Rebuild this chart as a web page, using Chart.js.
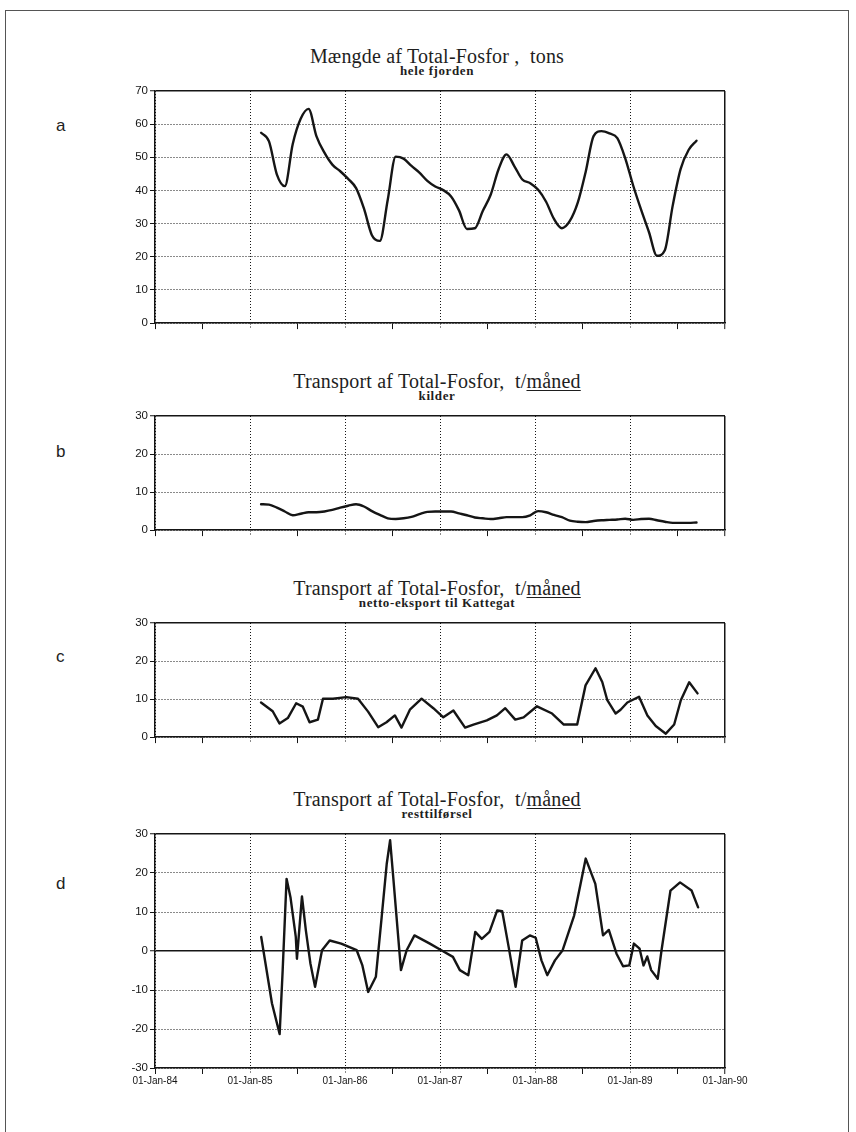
<!DOCTYPE html>
<html>
<head>
<meta charset="utf-8">
<script src="https://cdn.jsdelivr.net/npm/chart.js@4"></script>
<style>
html,body{margin:0;padding:0;background:#fff;}
body{width:856px;height:1132px;position:relative;overflow:hidden;}
#frame{position:absolute;left:5px;top:10px;width:844px;height:1200px;border:1.5px solid #555;box-sizing:border-box;}
canvas{position:absolute;}
.title{position:absolute;left:147px;width:580px;text-align:center;font-family:'Liberation Serif','Times New Roman',serif;font-size:20px;letter-spacing:0.2px;color:#1e1e1e;line-height:20px;white-space:nowrap;}
.title u{text-decoration-thickness:1px;text-underline-offset:2px;}
.sub{position:absolute;left:147px;width:580px;text-align:center;font-family:'Liberation Serif','Times New Roman',serif;font-size:13px;font-weight:bold;letter-spacing:0.6px;color:#1e1e1e;line-height:13px;white-space:nowrap;}
.lab{position:absolute;font-family:'Liberation Sans',Arial,sans-serif;font-size:17px;color:#222;line-height:17px;}
</style>
</head>
<body>
<div id="frame"></div>

<div class="lab" style="left:56px;top:117px;">a</div>
<div class="lab" style="left:56px;top:443px;">b</div>
<div class="lab" style="left:56px;top:648px;">c</div>
<div class="lab" style="left:56px;top:875px;">d</div>

<div class="title" style="top:46px;">Mængde af Total-Fosfor ,&nbsp; tons</div>
<div class="sub" style="top:64px;">hele fjorden</div>
<div class="title" style="top:371px;">Transport af Total-Fosfor,&nbsp; t/<u>måned</u></div>
<div class="sub" style="top:389px;">kilder</div>
<div class="title" style="top:578px;">Transport af Total-Fosfor,&nbsp; t/<u>måned</u></div>
<div class="sub" style="top:596px;">netto-eksport til Kattegat</div>
<div class="title" style="top:789px;">Transport af Total-Fosfor,&nbsp; t/<u>måned</u></div>
<div class="sub" style="top:807px;">resttilførsel</div>

<script>
// ---------- DATA ----------
const xYears = [1984, 1985, 1986, 1987, 1988, 1989, 1990];
const xTickLabels = ['01-Jan-84','01-Jan-85','01-Jan-86','01-Jan-87','01-Jan-88','01-Jan-89','01-Jan-90'];

const yTicksA = [0, 10, 20, 30, 40, 50, 60, 70];
const yTicksB = [0, 10, 20, 30];
const yTicksC = [0, 10, 20, 30];
const yTicksD = [-30, -20, -10, 0, 10, 20, 30];

// monthly dates for panels a and b
const months = [
 '1985-02','1985-03','1985-04','1985-05','1985-06','1985-07','1985-08','1985-09','1985-10','1985-11','1985-12',
 '1986-01','1986-02','1986-03','1986-04','1986-05','1986-06','1986-07','1986-08','1986-09','1986-10','1986-11','1986-12',
 '1987-01','1987-02','1987-03','1987-04','1987-05','1987-06','1987-07','1987-08','1987-09','1987-10','1987-11','1987-12',
 '1988-01','1988-02','1988-03','1988-04','1988-05','1988-06','1988-07','1988-08','1988-09','1988-10','1988-11','1988-12',
 '1989-01','1989-02','1989-03','1989-04','1989-05','1989-06','1989-07','1989-08','1989-09'
];

// a: Mængde af Total-Fosfor, tons (hele fjorden)
const amountTons = [
 57.4, 54.8, 44.8, 41.3, 54.0, 61.6, 64.6, 56.3, 51.4, 47.8, 45.8,
 43.5, 40.7, 34.5, 26.5, 24.8, 37.2, 50.2, 49.6, 47.4, 45.4, 42.9, 41.2,
 40.1, 38.2, 34.0, 28.4, 28.6, 33.8, 38.7, 46.4, 50.9, 47.3, 43.3, 42.2,
 40.2, 36.6, 31.4, 28.6, 30.8, 36.3, 45.6, 56.4, 57.9, 57.2, 55.8, 49.7,
 41.5, 34.2, 27.4, 20.3, 22.0, 35.5, 46.5, 52.2, 55.0
];

// b: kilder, t/måned
const sources = [
 6.8, 6.7, 5.9, 4.9, 3.9, 4.3, 4.7, 4.7, 4.9, 5.3, 5.9,
 6.4, 6.8, 6.2, 5.0, 4.0, 3.1, 2.9, 3.1, 3.5, 4.2, 4.8, 4.9,
 4.9, 4.9, 4.4, 3.9, 3.3, 3.1, 2.9, 3.1, 3.4, 3.4, 3.4, 3.9,
 5.0, 4.7, 4.0, 3.4, 2.5, 2.2, 2.1, 2.4, 2.6, 2.7, 2.8, 3.0,
 2.7, 2.9, 3.0, 2.6, 2.2, 1.9, 1.9, 1.9, 2.0
];

// c: netto-eksport til Kattegat, t/måned (dates as decimal years)
const exportDates = [
 1985.116, 1985.239, 1985.310, 1985.398, 1985.486, 1985.556, 1985.627, 1985.715, 1985.768, 1985.873,
 1986.014, 1986.137, 1986.243, 1986.349, 1986.437, 1986.525, 1986.595, 1986.683, 1986.806, 1986.930,
 1987.035, 1987.141, 1987.264, 1987.352, 1987.493, 1987.599, 1987.687, 1987.792, 1987.880, 1988.021,
 1988.180, 1988.303, 1988.444, 1988.532, 1988.637, 1988.708, 1988.761, 1988.849, 1988.901, 1988.972,
 1989.095, 1989.183, 1989.271, 1989.377, 1989.465, 1989.535, 1989.623, 1989.711
];
const netExport = [
 9.1, 6.8, 3.6, 5.0, 8.9, 8.0, 3.9, 4.6, 10.1, 10.1,
 10.5, 10.1, 6.7, 2.6, 3.9, 5.7, 2.5, 7.2, 10.1, 7.6,
 5.2, 7.0, 2.5, 3.3, 4.4, 5.7, 7.6, 4.6, 5.2, 8.1,
 6.2, 3.3, 3.3, 13.6, 18.1, 14.5, 9.7, 6.2, 7.2, 9.1,
 10.6, 5.7, 2.9, 0.9, 3.3, 9.7, 14.4, 11.5
];

// d: resttilførsel, t/måned (dates as decimal years)
const restDates = [
 1985.118, 1985.231, 1985.312, 1985.344, 1985.385, 1985.426, 1985.482, 1985.494, 1985.547, 1985.588,
 1985.636, 1985.685, 1985.758, 1985.839, 1985.960, 1986.123, 1986.183, 1986.244, 1986.325, 1986.386,
 1986.439, 1986.475, 1986.508, 1986.589, 1986.649, 1986.731, 1986.893, 1987.014, 1987.136, 1987.209,
 1987.298, 1987.371, 1987.440, 1987.521, 1987.602, 1987.655, 1987.723, 1987.796, 1987.865, 1987.946,
 1988.007, 1988.068, 1988.129, 1988.210, 1988.291, 1988.412, 1988.534, 1988.635, 1988.716, 1988.777,
 1988.858, 1988.927, 1988.992, 1989.041, 1989.101, 1989.142, 1989.182, 1989.223, 1989.292, 1989.332,
 1989.426, 1989.527, 1989.648, 1989.717
];
const restSupply = [
 3.6, -13.4, -21.3, -4.9, 18.5, 13.8, 3.6, -2.0, 14.0, 5.3,
 -3.2, -9.2, 0.2, 2.7, 1.9, 0.2, -3.7, -10.5, -6.6, 8.7,
 22.3, 28.4, 18.9, -4.9, 0.2, 4.0, 1.9, 0.2, -1.5, -4.9,
 -6.2, 4.9, 3.1, 4.9, 10.4, 10.2, 1.0, -9.2, 2.7, 4.0,
 3.4, -2.4, -6.2, -2.4, 0.2, 9.1, 23.7, 17.2, 4.0, 5.4,
 -0.7, -3.9, -3.7, 1.9, 0.6, -3.7, -1.4, -4.9, -7.1, 0.2,
 15.5, 17.6, 15.5, 11.2
];

// ---------- HELPERS ----------
function monthToYear(s) {
  const [y, m] = s.split('-').map(Number);
  return y + (m - 0.6) / 12;
}
const xTickValues = [];
xYears.forEach((y, i) => { xTickValues.push(y); if (i < xYears.length - 1) xTickValues.push(y + 0.5); });
const isYear = v => Math.abs(v - Math.round(v)) < 1e-6;
const DOT = [1, 2];
const INK = '#151515';

function panel(top, plotH, xs, ys, yTicks, opt) {
  const xh = opt.showX ? 30 : 6;
  const c = document.createElement('canvas');
  const W = 680, H = 10 + plotH + xh;
  c.width = W; c.height = H;
  c.style.left = '100px'; c.style.top = (top - 10) + 'px';
  c.style.width = W + 'px'; c.style.height = H + 'px';
  document.body.appendChild(c);
  const yMin = yTicks[0], yMax = yTicks[yTicks.length - 1];
  new Chart(c, {
    type: 'line',
    data: {
      datasets: [{
        data: xs.map((x, i) => ({ x: x, y: ys[i] })),
        borderColor: INK,
        borderWidth: 2.4,
        pointRadius: 0,
        fill: false,
        tension: opt.tension || 0,
        cubicInterpolationMode: opt.mono ? 'monotone' : 'default',
        borderJoinStyle: 'round',
        borderCapStyle: 'round'
      }]
    },
    options: {
      responsive: false,
      animation: false,
      devicePixelRatio: 1,
      layout: { padding: { top: 10, right: 55, bottom: 0, left: 0 } },
      plugins: { legend: { display: false }, tooltip: { enabled: false } },
      scales: {
        x: {
          type: 'linear', min: xYears[0], max: xYears[xYears.length - 1],
          afterBuildTicks: s => { s.ticks = xTickValues.map(v => ({ value: v })); },
          afterFit: s => { s.height = xh; },
          ticks: {
            display: !!opt.showX, autoSkip: false, maxRotation: 0, padding: 1,
            color: INK, font: { family: "'Liberation Sans', Arial, sans-serif", size: 10 },
            callback: v => { const k = xYears.indexOf(v); return k >= 0 ? xTickLabels[k] : ''; }
          },
          grid: {
            drawTicks: true, tickLength: 6,
            color: ctx => (ctx.tick && isYear(ctx.tick.value)) ? INK : 'rgba(0,0,0,0)',
            lineWidth: ctx => (ctx.tick && ctx.tick.value === 1990) ? 1.5 : 1,
            tickColor: INK, tickWidth: 1,
            tickBorderDash: ctx => (ctx.tick && isYear(ctx.tick.value) && ctx.tick.value !== 1990 && ctx.tick.value !== 1984) ? DOT : []
          },
          border: {
            display: true, color: INK, width: 1.5,
            dash: ctx => (ctx.tick && ctx.tick.value === 1990) ? [] : DOT
          }
        },
        y: {
          min: yMin, max: yMax,
          afterBuildTicks: s => { s.ticks = yTicks.map(v => ({ value: v })); },
          afterFit: s => { s.width = 55; },
          ticks: {
            autoSkip: false, padding: 2, color: INK,
            font: { family: "'Liberation Sans', Arial, sans-serif", size: 11.5 }
          },
          grid: {
            drawTicks: true, tickLength: 5,
            color: INK,
            lineWidth: ctx => (ctx.tick && (ctx.tick.value === yMax || (opt.solidZero && ctx.tick.value === 0))) ? 1.5 : 1,
            tickColor: INK, tickWidth: 1, tickBorderDash: []
          },
          border: {
            display: true, color: INK, width: 1.5,
            dash: ctx => (ctx.tick && (ctx.tick.value === yMax || (opt.solidZero && ctx.tick.value === 0))) ? [] : DOT
          }
        }
      }
    }
  });
}

panel(91, 235, months.map(monthToYear), amountTons, yTicksA, { mono: true });
panel(416, 117, months.map(monthToYear), sources, yTicksB, { mono: true });
panel(623, 117, exportDates, netExport, yTicksC, {});
panel(834, 234, restDates, restSupply, yTicksD, { showX: true, solidZero: true });
</script>
</body>
</html>
